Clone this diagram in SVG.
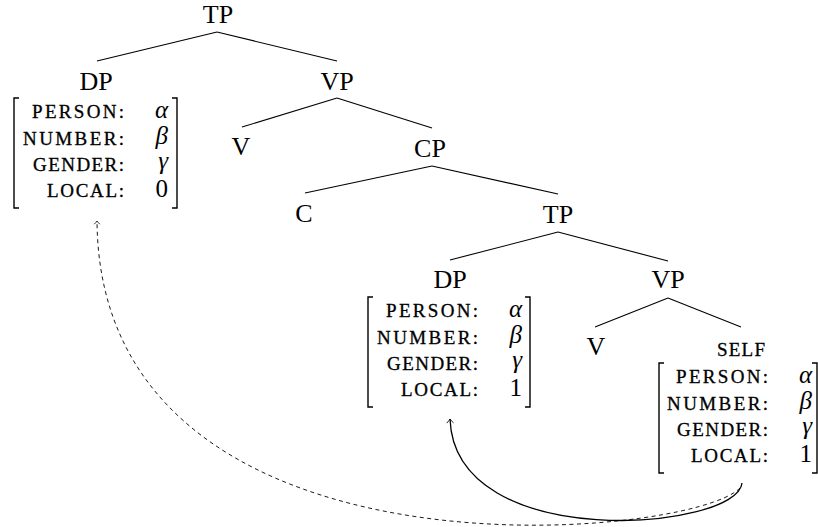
<svg xmlns="http://www.w3.org/2000/svg" width="818" height="527" viewBox="0 0 818 527">
  <style>
    .node { font-family: "Liberation Serif", "DejaVu Serif", serif; font-size: 26px; fill: #000; text-anchor: middle; }
    .feat { font-family: "Liberation Serif", "DejaVu Serif", serif; font-size: 19px; fill: #000; stroke: #000; stroke-width: 0.3; text-anchor: end; }
    .val { font-family: "Liberation Serif", "DejaVu Serif", serif; font-size: 25px; fill: #000; text-anchor: end; }
    .greek { font-style: italic; }
    .edge { stroke: #000; stroke-width: 1.1; fill: none; }
    .bracket { stroke: #000; stroke-width: 1.4; fill: none; }
    .move { stroke: #000; stroke-width: 1.3; fill: none; }
    .copy { stroke: #000; stroke-width: 0.9; fill: none; stroke-dasharray: 4 3.5; }
  </style>
  <defs>
    <marker id="tip" markerUnits="userSpaceOnUse" markerWidth="12" markerHeight="12" refX="0" refY="0" viewBox="-6 -6 12 12" orient="auto">
      <path d="M -4 -3.4 Q -1.2 -0.6 0 0 Q -1.2 0.6 -4 3.4" fill="none" stroke="#000" stroke-width="0.9"/>
    </marker>
    <marker id="tipSmall" markerUnits="userSpaceOnUse" markerWidth="10" markerHeight="10" refX="0" refY="0" viewBox="-5 -5 10 10" orient="auto">
      <path d="M -3.2 -2.8 Q -1 -0.5 0 0 Q -1 0.5 -3.2 2.8" fill="none" stroke="#000" stroke-width="0.8"/>
    </marker>
  </defs>

  <!-- tree branches and movement arrows -->
  <g id="connectors">
    <line class="edge" x1="217" y1="32" x2="97" y2="61"/>
    <line class="edge" x1="217" y1="32" x2="337" y2="61"/>
    <line class="edge" x1="337" y1="98" x2="242" y2="127"/>
    <line class="edge" x1="337" y1="98" x2="432" y2="128"/>
    <line class="edge" x1="432" y1="166" x2="305" y2="193"/>
    <line class="edge" x1="432" y1="166" x2="558" y2="194"/>
    <line class="edge" x1="558" y1="232" x2="450" y2="260"/>
    <line class="edge" x1="558" y1="232" x2="668" y2="261"/>
    <line class="edge" x1="668" y1="298" x2="595" y2="327"/>
    <line class="edge" x1="668" y1="298" x2="741" y2="327"/>
    <path class="move" d="M 742 483 C 738 530, 455 555, 450 419" marker-end="url(#tip)"/>
    <path class="copy" d="M 740 488 C 690 540, 100 595, 97 221" marker-end="url(#tipSmall)"/>
  </g>

  <g id="tp-root"><text class="node" x="218" y="23">TP</text></g>

  <g id="dp-matrix">
    <text class="node" x="96" y="90">DP</text>
    <path class="bracket" d="M 19 98 H 14 V 208 H 19"/>
    <path class="bracket" d="M 172 98 H 177 V 208 H 172"/>
    <text class="feat" x="124" y="118" textLength="92" lengthAdjust="spacing">PERSON:</text>
    <text class="feat" x="124" y="145" textLength="101" lengthAdjust="spacing">NUMBER:</text>
    <text class="feat" x="124" y="171" textLength="91" lengthAdjust="spacing">GENDER:</text>
    <text class="feat" x="124" y="197" textLength="77" lengthAdjust="spacing">LOCAL:</text>
    <text class="val greek" x="168" y="118">α</text>
    <text class="val greek" x="168" y="144">β</text>
    <text class="val greek" x="168" y="169">γ</text>
    <text class="val" x="168" y="197">0</text>
  </g>

  <g id="vp-matrix"><text class="node" x="337" y="90">VP</text></g>
  <g id="v-matrix"><text class="node" x="241" y="155">V</text></g>
  <g id="cp"><text class="node" x="430" y="157">CP</text></g>
  <g id="c"><text class="node" x="304" y="222">C</text></g>
  <g id="tp-embedded"><text class="node" x="558" y="223">TP</text></g>

  <g id="dp-embedded">
    <text class="node" x="450" y="288">DP</text>
    <path class="bracket" d="M 373 297 H 368 V 407 H 373"/>
    <path class="bracket" d="M 525 297 H 530 V 407 H 525"/>
    <text class="feat" x="478" y="317" textLength="92" lengthAdjust="spacing">PERSON:</text>
    <text class="feat" x="478" y="344" textLength="101" lengthAdjust="spacing">NUMBER:</text>
    <text class="feat" x="478" y="370" textLength="91" lengthAdjust="spacing">GENDER:</text>
    <text class="feat" x="478" y="396" textLength="77" lengthAdjust="spacing">LOCAL:</text>
    <text class="val greek" x="522" y="317">α</text>
    <text class="val greek" x="522" y="343">β</text>
    <text class="val greek" x="522" y="368">γ</text>
    <text class="val" x="522" y="396">1</text>
  </g>

  <g id="vp-embedded"><text class="node" x="668" y="288">VP</text></g>
  <g id="v-embedded"><text class="node" x="596" y="355">V</text></g>

  <g id="self">
    <text class="feat" x="765" y="356" textLength="48" lengthAdjust="spacing">SELF</text>
    <path class="bracket" d="M 664 363 H 659 V 473 H 664"/>
    <path class="bracket" d="M 812 363 H 817 V 473 H 812"/>
    <text class="feat" x="768" y="383" textLength="92" lengthAdjust="spacing">PERSON:</text>
    <text class="feat" x="768" y="410" textLength="101" lengthAdjust="spacing">NUMBER:</text>
    <text class="feat" x="768" y="436" textLength="91" lengthAdjust="spacing">GENDER:</text>
    <text class="feat" x="768" y="462" textLength="77" lengthAdjust="spacing">LOCAL:</text>
    <text class="val greek" x="812" y="383">α</text>
    <text class="val greek" x="812" y="409">β</text>
    <text class="val greek" x="812" y="434">γ</text>
    <text class="val" x="812" y="462">1</text>
  </g>
</svg>
